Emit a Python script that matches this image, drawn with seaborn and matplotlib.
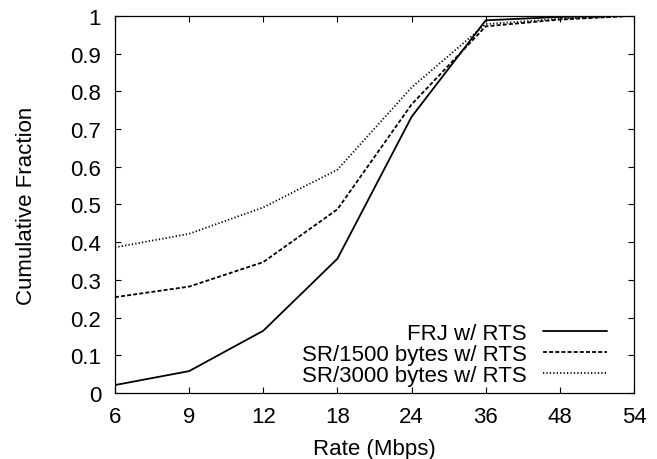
import numpy as np
import pandas as pd
import matplotlib
matplotlib.use('Agg')
import matplotlib.pyplot as plt
import seaborn as sns

# rates on the x axis (equally spaced categories)
rates = [6, 9, 12, 18, 24, 36, 48, 54]
frj_rts = [0.021, 0.058, 0.165, 0.356, 0.732, 0.988, 0.997, 1.0]
sr1500_rts = [0.254, 0.282, 0.347, 0.487, 0.765, 0.972, 0.99, 1.0]
sr3000_rts = [0.386, 0.422, 0.492, 0.592, 0.81, 0.978, 0.992, 1.0]
series_names = ['FRJ w/ RTS', 'SR/1500 bytes w/ RTS', 'SR/3000 bytes w/ RTS']

pos = np.arange(len(rates))
df = pd.concat([
    pd.DataFrame({'pos': pos, 'frac': vals, 'series': name})
    for name, vals in zip(series_names, [frj_rts, sr1500_rts, sr3000_rts])
])

sns.set_style('ticks')
plt.rcParams['font.family'] = ['Liberation Sans', 'DejaVu Sans']
plt.rcParams['text.color'] = 'black'
plt.rcParams['axes.labelcolor'] = 'black'

fig = plt.figure(figsize=(6.57, 4.60), dpi=100)
ax = fig.add_axes([0.175, 0.1435, 0.79, 0.82])

sns.lineplot(data=df, x='pos', y='frac', hue='series', style='series',
             palette=['black'] * 3,
             dashes=[(None, None), (2.2, 1.2), (0.7, 1.2)],
             linewidth=1.3, ax=ax, legend=True)

ax.set_xlim(0, len(rates) - 1)
ax.set_ylim(0, 1)
ax.set_xticks(pos)
ax.set_xticklabels([str(r) for r in rates])
ax.set_yticks(np.arange(0, 1.01, 0.1))
ax.set_yticklabels(['0'] + ['%.1f' % v for v in np.arange(0.1, 0.95, 0.1)] + ['1'])
ax.tick_params(direction='in', length=4.5, width=0.8, top=True, right=True,
               labelsize=16, colors='black')
ax.tick_params(axis='x', pad=9.5)
ax.tick_params(axis='y', pad=10)
for s in ax.spines.values():
    s.set_linewidth(0.9)
    s.set_color('black')
    s.set_visible(True)

ax.set_xlabel('Rate (Mbps)', fontsize=16, labelpad=8, color='black')
ax.set_ylabel('Cumulative Fraction', fontsize=16, labelpad=24, color='black')

handles, labels = ax.get_legend_handles_labels()
leg = ax.legend(handles, labels, loc='lower right', bbox_to_anchor=(0.948, 0.019),
                frameon=False, markerfirst=False, fontsize=16, borderpad=0,
                borderaxespad=0, handlelength=2.9, handletextpad=0.7,
                labelspacing=0)
for t in leg.get_texts():
    t.set_color('black')

plt.savefig('out.png', dpi=100)
